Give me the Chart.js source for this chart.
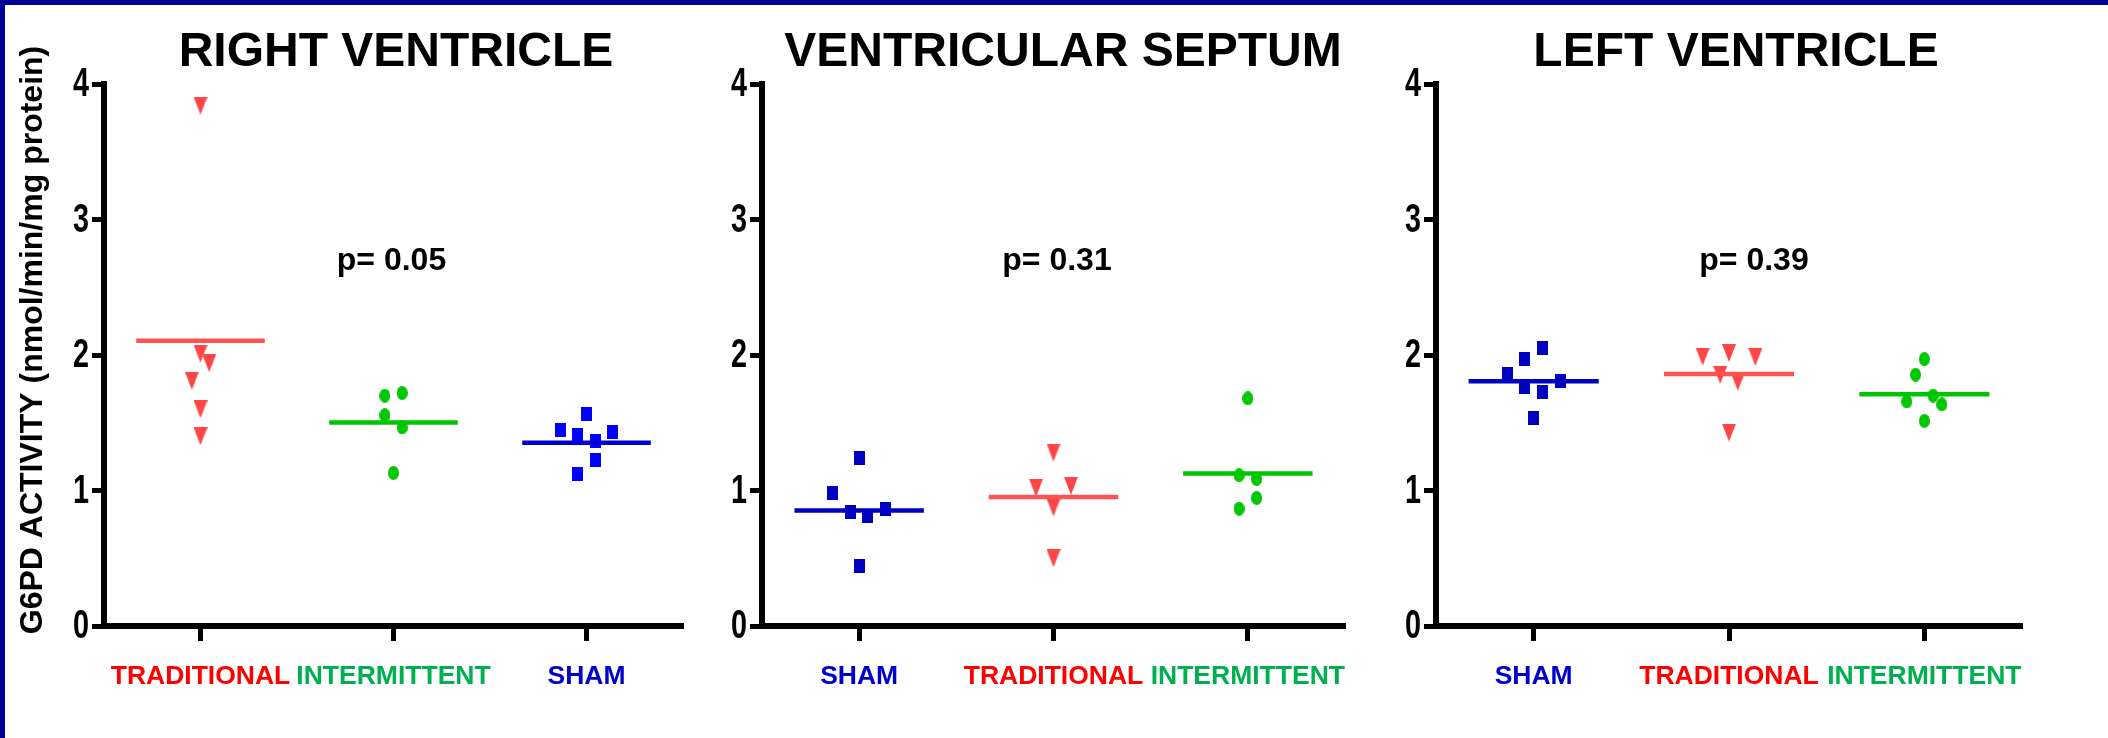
<!DOCTYPE html>
<html>
<head>
<meta charset="utf-8">
<script src="https://cdn.jsdelivr.net/npm/chart.js@4.4.0/dist/chart.umd.min.js"></script>
<style>
  html, body { margin: 0; padding: 0; background: #ffffff; width: 2108px; height: 738px; overflow: hidden; }
  body { position: relative; }
  canvas { position: absolute; top: 0; }
  .frameTop { position: absolute; left: 0; top: 0; width: 2108px; height: 5px; background: #000096; }
  .frameLeft { position: absolute; left: 0; top: 0; width: 5px; height: 738px; background: #000096; }
</style>
</head>
<body>
<canvas id="c1" width="720" height="738" style="left:0px"></canvas>
<canvas id="c2" width="700" height="738" style="left:700px"></canvas>
<canvas id="c3" width="708" height="738" style="left:1400px"></canvas>
<div class="frameTop"></div>
<div class="frameLeft"></div>
<script>
// ---------------- DATA ----------------
const yTickValues = [0, 1, 2, 3, 4];
const panelTitles = ['RIGHT VENTRICLE', 'VENTRICULAR SEPTUM', 'LEFT VENTRICLE'];
const pValueLabels = ['p= 0.05', 'p= 0.31', 'p= 0.39'];
const yAxisTitle = 'G6PD ACTIVITY (nmol/min/mg protein)';

// Right ventricle
const rvCategories = ['TRADITIONAL', 'INTERMITTENT', 'SHAM'];
const rvTraditional = [3.84, 2.01, 1.94, 1.81, 1.60, 1.40];
const rvTraditionalSlots = [0, 0, 0.5, -0.5, 0, 0];
const rvIntermittent = [1.70, 1.72, 1.555, 1.465, 1.13];
const rvIntermittentSlots = [-0.5, 0.5, -0.5, 0.5, 0];
const rvSham = [1.445, 1.41, 1.367, 1.432, 1.562, 1.228, 1.125];
const rvShamSlots = [-1.5, -0.5, 0.5, 1.5, 0, 0.5, -0.5];
const rvMeans = [2.105, 1.502, 1.352];

// Ventricular septum
const vsCategories = ['SHAM', 'TRADITIONAL', 'INTERMITTENT'];
const vsSham = [1.24, 0.98, 0.84, 0.815, 0.862, 0.44];
const vsShamSlots = [0, -1.5, -0.5, 0.5, 1.5, 0];
const vsTraditional = [1.28, 1.02, 1.035, 0.875, 0.50];
const vsTraditionalSlots = [0, -1, 1, 0, 0];
const vsIntermittent = [1.68, 1.113, 1.084, 0.945, 0.866];
const vsIntermittentSlots = [0, -0.5, 0.5, 0.5, -0.5];
const vsMeans = [0.852, 0.952, 1.126];

// Left ventricle
const lvCategories = ['SHAM', 'TRADITIONAL', 'INTERMITTENT'];
const lvSham = [2.054, 1.974, 1.859, 1.766, 1.727, 1.807, 1.535];
const lvShamSlots = [0.5, -0.5, -1.5, -0.5, 0.5, 1.5, 0];
const lvTraditional = [1.988, 2.015, 1.985, 1.853, 1.803, 1.428];
const lvTraditionalSlots = [-1.5, 0, 1.5, -0.5, 0.5, 0];
const lvIntermittent = [1.970, 1.855, 1.700, 1.635, 1.657, 1.513];
const lvIntermittentSlots = [0, -0.5, 0.5, 1, -1, 0];
const lvMeans = [1.807, 1.860, 1.710];

// ---------------- STYLE ----------------
const SLOT_STEP = 0.09;       // horizontal spacing of scattered symbols (axis units)
const MEAN_HALF = 0.333;      // half length of mean line (axis units)
const ARIAL = "'Liberation Sans', Arial, sans-serif";

const groupStyle = {
  TRADITIONAL:  { shape: 'tri',    marker: '#ff4545', line: '#ff5252', label: '#ff0000' },
  INTERMITTENT: { shape: 'circle', marker: '#00c800', line: '#00c400', label: '#00b050' },
  SHAM:         { shape: 'rect',   marker: '#0000c0', line: '#0000c0', label: '#0000cc' }
};

function makeMarker(shape, color) {
  const w = shape === 'tri' ? 14 : 11;
  const h = shape === 'tri' ? 18 : 14;
  const c = document.createElement('canvas');
  c.width = w; c.height = h;
  const g = c.getContext('2d');
  g.fillStyle = color;
  if (shape === 'rect') {
    g.fillRect(0, 0, w, h);
  } else if (shape === 'circle') {
    g.beginPath(); g.ellipse(w / 2, h / 2, w / 2, h / 2, 0, 0, Math.PI * 2); g.fill();
  } else {
    g.beginPath(); g.moveTo(0, 0); g.lineTo(w, 0); g.lineTo(w / 2, h); g.closePath(); g.fill();
  }
  return c;
}

const panels = [
  { id: 'c1', canvasLeft: 0, axisW: 104, padR: 37, title: panelTitles[0], titleX: 396, p: pValueLabels[0], pX: 391.5,
    cats: rvCategories, groups: [[rvTraditional, rvTraditionalSlots], [rvIntermittent, rvIntermittentSlots], [rvSham, rvShamSlots]],
    means: rvMeans, shamMarker: '#0000ff', shamLine: '#0000cc', yTitle: true },
  { id: 'c2', canvasLeft: 700, axisW: 62, padR: 55, title: panelTitles[1], titleX: 1063, p: pValueLabels[1], pX: 1057,
    cats: vsCategories, groups: [[vsSham, vsShamSlots], [vsTraditional, vsTraditionalSlots], [vsIntermittent, vsIntermittentSlots]],
    means: vsMeans, yTitle: false },
  { id: 'c3', canvasLeft: 1400, axisW: 36, padR: 86, title: panelTitles[2], titleX: 1736, p: pValueLabels[2], pX: 1754,
    cats: lvCategories, groups: [[lvSham, lvShamSlots], [lvTraditional, lvTraditionalSlots], [lvIntermittent, lvIntermittentSlots]],
    means: lvMeans, yTitle: false }
];

panels.forEach(P => {
  const datasets = [];
  P.cats.forEach((cat, i) => {
    const st = groupStyle[cat];
    const markerColor = (cat === 'SHAM' && P.shamMarker) ? P.shamMarker : st.marker;
    const lineColor = (cat === 'SHAM' && P.shamLine) ? P.shamLine : st.line;
    const [vals, slots] = P.groups[i];
    datasets.push({
      type: 'line',
      data: [{ x: i + 1 - MEAN_HALF, y: P.means[i] }, { x: i + 1 + MEAN_HALF, y: P.means[i] }],
      borderColor: lineColor, borderWidth: 4.5, pointRadius: 0, fill: false, order: 0
    });
    datasets.push({
      type: 'scatter',
      data: vals.map((v, k) => ({ x: i + 1 + slots[k] * SLOT_STEP, y: v })),
      pointStyle: makeMarker(st.shape, markerColor),
      pointRadius: 7, backgroundColor: markerColor, borderColor: markerColor, order: 1
    });
  });

  const textPlugin = {
    id: 'texts',
    afterDraw(chart) {
      const ctx = chart.ctx;
      const ys = chart.scales.y;
      ctx.save();
      ctx.fillStyle = '#000000';
      // y tick labels (condensed bold digits)
      ctx.font = 'bold 40px ' + ARIAL;
      ctx.textAlign = 'right';
      ctx.textBaseline = 'middle';
      yTickValues.forEach(v => {
        ctx.save();
        ctx.translate(chart.chartArea.left - 15, ys.getPixelForValue(v) + 1);
        ctx.scale(0.72, 1);
        ctx.fillText(String(v), 0, 0);
        ctx.restore();
      });
      ctx.textAlign = 'center';
      ctx.textBaseline = 'alphabetic';
      ctx.font = 'bold 48px ' + ARIAL;
      ctx.fillText(P.title, P.titleX - P.canvasLeft, 66);
      ctx.font = 'bold 32px ' + ARIAL;
      ctx.fillText(P.p, P.pX - P.canvasLeft, 270);
      if (P.yTitle) {
        ctx.translate(33.5, 340);
        ctx.rotate(-Math.PI / 2);
        ctx.textBaseline = 'middle';
        ctx.font = 'bold 32px ' + ARIAL;
        ctx.fillText(yAxisTitle, 0, 0);
      }
      ctx.restore();
    }
  };

  new Chart(document.getElementById(P.id), {
    type: 'scatter',
    data: { datasets },
    options: {
      responsive: false,
      animation: false,
      events: [],
      layout: { padding: { top: 84, bottom: 12, left: 0, right: P.padR } },
      plugins: { legend: { display: false }, title: { display: false }, tooltip: { enabled: false } },
      scales: {
        x: {
          type: 'linear', min: 0.5, max: 3.5,
          afterBuildTicks: s => { s.ticks = P.cats.map((c, i) => ({ value: i + 1 })); },
          afterFit: s => { s.height = 100; },
          grid: { display: true, drawOnChartArea: false, drawTicks: true, tickLength: 15, tickWidth: 5, tickColor: '#000000' },
          border: { display: true, width: 6, color: '#000000' },
          ticks: {
            autoSkip: false, maxRotation: 0, minRotation: 0, padding: 20,
            font: { family: ARIAL, size: 26.5, weight: 'bold' },
            color: c => groupStyle[P.cats[c.index]] ? groupStyle[P.cats[c.index]].label : '#000',
            callback: v => P.cats[Math.round(v) - 1]
          }
        },
        y: {
          type: 'linear', min: 0, max: 4,
          afterBuildTicks: s => { s.ticks = yTickValues.map(v => ({ value: v })); },
          afterFit: s => { s.width = P.axisW; },
          grid: { display: true, drawOnChartArea: false, drawTicks: true, tickLength: 12, tickWidth: 5, tickColor: '#000000' },
          border: { display: true, width: 6, color: '#000000' },
          ticks: { display: false }
        }
      }
    },
    plugins: [textPlugin]
  });
});
</script>
</body>
</html>
